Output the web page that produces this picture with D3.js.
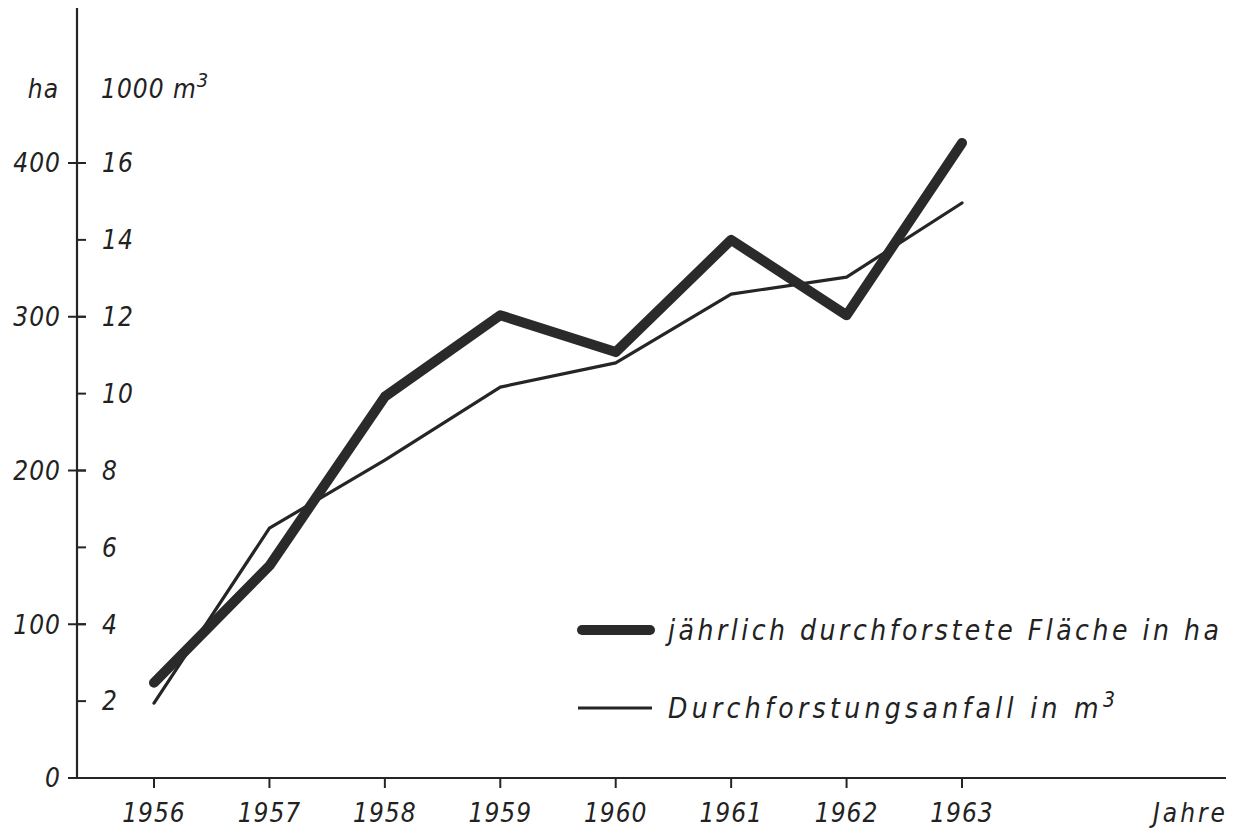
<!DOCTYPE html>
<html><head><meta charset="utf-8">
<script src="https://cdn.jsdelivr.net/npm/d3@7"></script>
<style>
body{margin:0;background:#fff;}
text{font-family:"DejaVu Sans Condensed","DejaVu Sans",sans-serif;font-style:italic;fill:#222;}
</style></head>
<body>
<svg id="c" width="1233" height="830"></svg>
<script>
const years = [1956,1957,1958,1959,1960,1961,1962,1963];
const areaHa = [62,138,248,301,277,350,301,413];
const volume1000m3 = [1.95,6.5,8.27,10.17,10.8,12.59,13.03,14.96];
const haTicks = [0,100,200,300,400];
const m3Ticks = [2,4,6,8,10,12,14,16];
const legendLabels = ["jährlich durchforstete Fläche in ha","Durchforstungsanfall in m"];

const svg = d3.select("#c");
const ink = "#252525";
const x = d3.scaleLinear().domain([1956,1963]).range([154,962]);
const yHa = d3.scaleLinear().domain([0,400]).range([778,163]);
const yM3 = d3.scaleLinear().domain([0,16]).range([778,163]);
const fs = 26;

svg.append("line").attr("x1",77).attr("x2",77).attr("y1",8).attr("y2",778)
  .attr("stroke",ink).attr("stroke-width",2.2);
svg.append("line").attr("x1",68).attr("x2",1226).attr("y1",778).attr("y2",778)
  .attr("stroke",ink).attr("stroke-width",2.2);

haTicks.forEach(v=>{
  svg.append("line").attr("x1",68).attr("x2",86).attr("y1",yHa(v)).attr("y2",yHa(v))
    .attr("stroke",ink).attr("stroke-width",2);
  svg.append("text").attr("x",61).attr("y",yHa(v)).attr("dy","0.36em")
    .attr("text-anchor","end").attr("font-size",fs).attr("letter-spacing",1).text(v);
});
m3Ticks.forEach(v=>{
  svg.append("line").attr("x1",77).attr("x2",86).attr("y1",yM3(v)).attr("y2",yM3(v))
    .attr("stroke",ink).attr("stroke-width",2);
  svg.append("text").attr("x",102).attr("y",yM3(v)).attr("dy","0.36em")
    .attr("text-anchor","start").attr("font-size",fs).attr("letter-spacing",1).text(v);
});
svg.append("text").attr("x",59).attr("y",89).attr("dy","0.36em").attr("text-anchor","end")
  .attr("font-size",fs).attr("letter-spacing",1).text("ha");
const u = svg.append("text").attr("x",101).attr("y",89).attr("dy","0.36em")
  .attr("font-size",fs).attr("letter-spacing",1).text("1000 m");
u.append("tspan").attr("font-size",20).attr("dy","-0.55em").text("3");

years.forEach(yv=>{
  svg.append("line").attr("x1",x(yv)).attr("x2",x(yv)).attr("y1",778).attr("y2",788)
    .attr("stroke",ink).attr("stroke-width",2);
  svg.append("text").attr("x",x(yv)).attr("y",813).attr("dy","0.36em")
    .attr("text-anchor","middle").attr("font-size",fs).attr("letter-spacing",1).text(yv);
});
svg.append("text").attr("x",1228).attr("y",813).attr("dy","0.36em")
  .attr("text-anchor","end").attr("font-size",fs).attr("letter-spacing",3).text("Jahre");

const lineHa = d3.line().x((d,i)=>x(years[i])).y(d=>yHa(d));
const lineM3 = d3.line().x((d,i)=>x(years[i])).y(d=>yM3(d));
svg.append("path").attr("d",lineM3(volume1000m3)).attr("fill","none")
  .attr("stroke",ink).attr("stroke-width",3.2).attr("stroke-linejoin","round").attr("stroke-linecap","round");
svg.append("path").attr("d",lineHa(areaHa)).attr("fill","none")
  .attr("stroke","#2a2a2a").attr("stroke-width",10).attr("stroke-linejoin","round").attr("stroke-linecap","round");

svg.append("line").attr("x1",582).attr("x2",650).attr("y1",630).attr("y2",630)
  .attr("stroke","#2a2a2a").attr("stroke-width",10).attr("stroke-linecap","round");
svg.append("text").attr("x",668).attr("y",630).attr("dy","0.36em").attr("font-size",28)
  .attr("letter-spacing",3.5).text(legendLabels[0]);
svg.append("line").attr("x1",578).attr("x2",652).attr("y1",708).attr("y2",708)
  .attr("stroke",ink).attr("stroke-width",3.2);
const l2 = svg.append("text").attr("x",668).attr("y",708).attr("dy","0.36em").attr("font-size",28)
  .attr("letter-spacing",4.3).text(legendLabels[1]);
l2.append("tspan").attr("font-size",21).attr("dy","-0.55em").text("3");
</script>
</body></html>
